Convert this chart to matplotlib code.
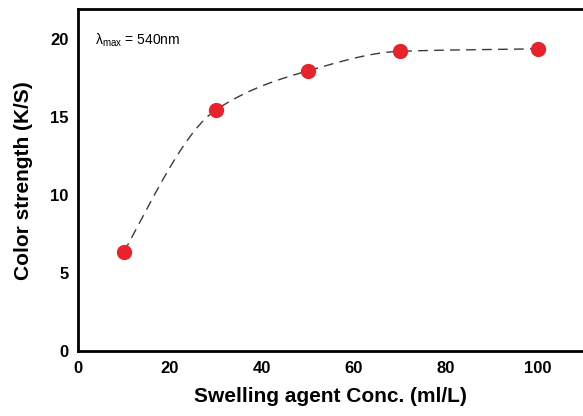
import numpy as np
import matplotlib
matplotlib.use("Agg")
import matplotlib.pyplot as plt

conc = [10, 30, 50, 70, 100]
strength = [6.35, 15.45, 17.95, 19.2, 19.36]
xticks = [0, 20, 40, 60, 80, 100]
yticks = [0, 5, 10, 15, 20]

plt.rcParams['font.family'] = ['Liberation Sans', 'DejaVu Sans']
plt.rcParams['mathtext.fontset'] = 'custom'
plt.rcParams['mathtext.rm'] = 'Liberation Sans'
plt.rcParams['mathtext.it'] = 'Liberation Sans'

def smooth_curve(x, y, xn):
    x = np.asarray(x, float); y = np.asarray(y, float)
    h = np.diff(x); d = np.diff(y) / h
    n = len(x); m = np.zeros(n)
    for k in range(1, n - 1):
        if d[k-1] * d[k] > 0:
            w1 = 2*h[k] + h[k-1]; w2 = h[k] + 2*h[k-1]
            m[k] = (w1 + w2) / (w1 / d[k-1] + w2 / d[k])
    m[0] = 1.2 * d[0]
    m[-1] = d[-1]
    out = np.empty_like(xn)
    for i, xv in enumerate(xn):
        k = min(np.searchsorted(x, xv) - 1, n - 2); k = max(k, 0)
        t = (xv - x[k]) / h[k]
        h00 = 2*t**3 - 3*t**2 + 1; h10 = t**3 - 2*t**2 + t
        h01 = -2*t**3 + 3*t**2; h11 = t**3 - t**2
        out[i] = h00*y[k] + h10*h[k]*m[k] + h01*y[k+1] + h11*h[k]*m[k+1]
    return out

fig = plt.figure(figsize=(5.83, 4.16), dpi=100)
ax = fig.add_axes([0.1338, 0.156, 0.8662, 0.822])

xs = np.linspace(conc[0], conc[-1], 300)
ax.plot(xs, smooth_curve(conc, strength, xs), color='#3a3a3a', lw=1.0, ls=(0, (7, 4.5)), zorder=2)
ax.plot(conc, strength, 'o', color='#E8242A', markersize=11, markeredgewidth=0, zorder=3)

ax.set_xlim(0, 109.8)
ax.set_ylim(0, 21.9)
ax.set_xticks(xticks)
ax.set_yticks(yticks)
ax.tick_params(length=0, labelsize=12, pad=7)
for lab in ax.get_xticklabels() + ax.get_yticklabels():
    lab.set_fontweight('bold')
ax.spines['right'].set_visible(False)
for s in ['left', 'bottom', 'top']:
    ax.spines[s].set_linewidth(2)

ax.set_xlabel('Swelling agent Conc. (ml/L)', fontsize=15, fontweight='bold', labelpad=8)
ax.set_ylabel('Color strength (K/S)', fontsize=15, fontweight='bold', labelpad=12)
ax.text(3.7, 19.9, r'$\mathrm{\lambda}_{\mathrm{max}}$ = 540nm', fontsize=10, va='center', ha='left')

fig.savefig('out.png', dpi=100)
